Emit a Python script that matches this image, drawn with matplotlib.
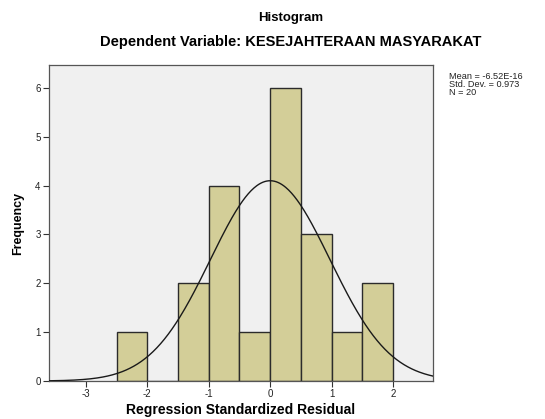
import numpy as np
import matplotlib
matplotlib.use("Agg")
import matplotlib.pyplot as plt

plt.rcParams['font.family'] = ['Liberation Sans', 'DejaVu Sans']

# histogram data (bin left edges, counts), width 0.5
bin_left = [-2.5, -2.0, -1.5, -1.0, -0.5, 0.0, 0.5, 1.0, 1.5]
counts = [1, 0, 2, 4, 1, 6, 3, 1, 2]
bin_width = 0.5

mean = -6.52e-16
std = 0.973
n = 20
stats_lines = ['Mean = -6.52E-16', 'Std. Dev. = 0.973', 'N = 20']

xticks = [-3, -2, -1, 0, 1, 2]
yticks = [0, 1, 2, 3, 4, 5, 6]

fig = plt.figure(figsize=(5.45, 4.19), dpi=100)
ax = fig.add_axes([0.0899, 0.0907, 0.7046, 0.7542])
ax.set_facecolor('#f0f0f0')

ax.bar(bin_left, counts, width=bin_width, align='edge', color='#d3ce98',
       edgecolor='#2b2b2b', linewidth=1.0, zorder=2)

# fitted normal curve scaled to counts
xs = np.linspace(-3.6, 2.65, 400)
ys = n * bin_width / (std * np.sqrt(2 * np.pi)) * np.exp(-0.5 * ((xs - mean) / std) ** 2)
ax.plot(xs, ys, color='#1a1a1a', linewidth=1.0, zorder=3)

ax.set_xlim(-3.6, 2.65)
ax.set_ylim(0, 6.47)
ax.set_xticks(xticks)
ax.set_xticklabels([str(t) for t in xticks])
ax.set_yticks(yticks)
ax.tick_params(labelsize=7, length=4, width=0.8, color='#333333', labelcolor='#222222', pad=2)
for s in ax.spines.values():
    s.set_color('#555555')
    s.set_linewidth(0.9)

ax.set_xlabel('Regression Standardized Residual', fontsize=10, fontweight='bold', labelpad=3)
ax.set_ylabel('Frequency', fontsize=9, fontweight='bold', labelpad=8)

fig.text(0.533, 0.957, 'Histogram', ha='center', va='center', fontsize=9.5, fontweight='bold')
fig.text(0.533, 0.899, 'Dependent Variable: KESEJAHTERAAN MASYARAKAT', ha='center', va='center',
         fontsize=10.5, fontweight='bold')

for i, line in enumerate(stats_lines):
    fig.text(0.823, 0.818 - i * 0.0195, line, ha='left', va='center', fontsize=6.6,
             color='#222222')

fig.savefig('out.png', dpi=100)
